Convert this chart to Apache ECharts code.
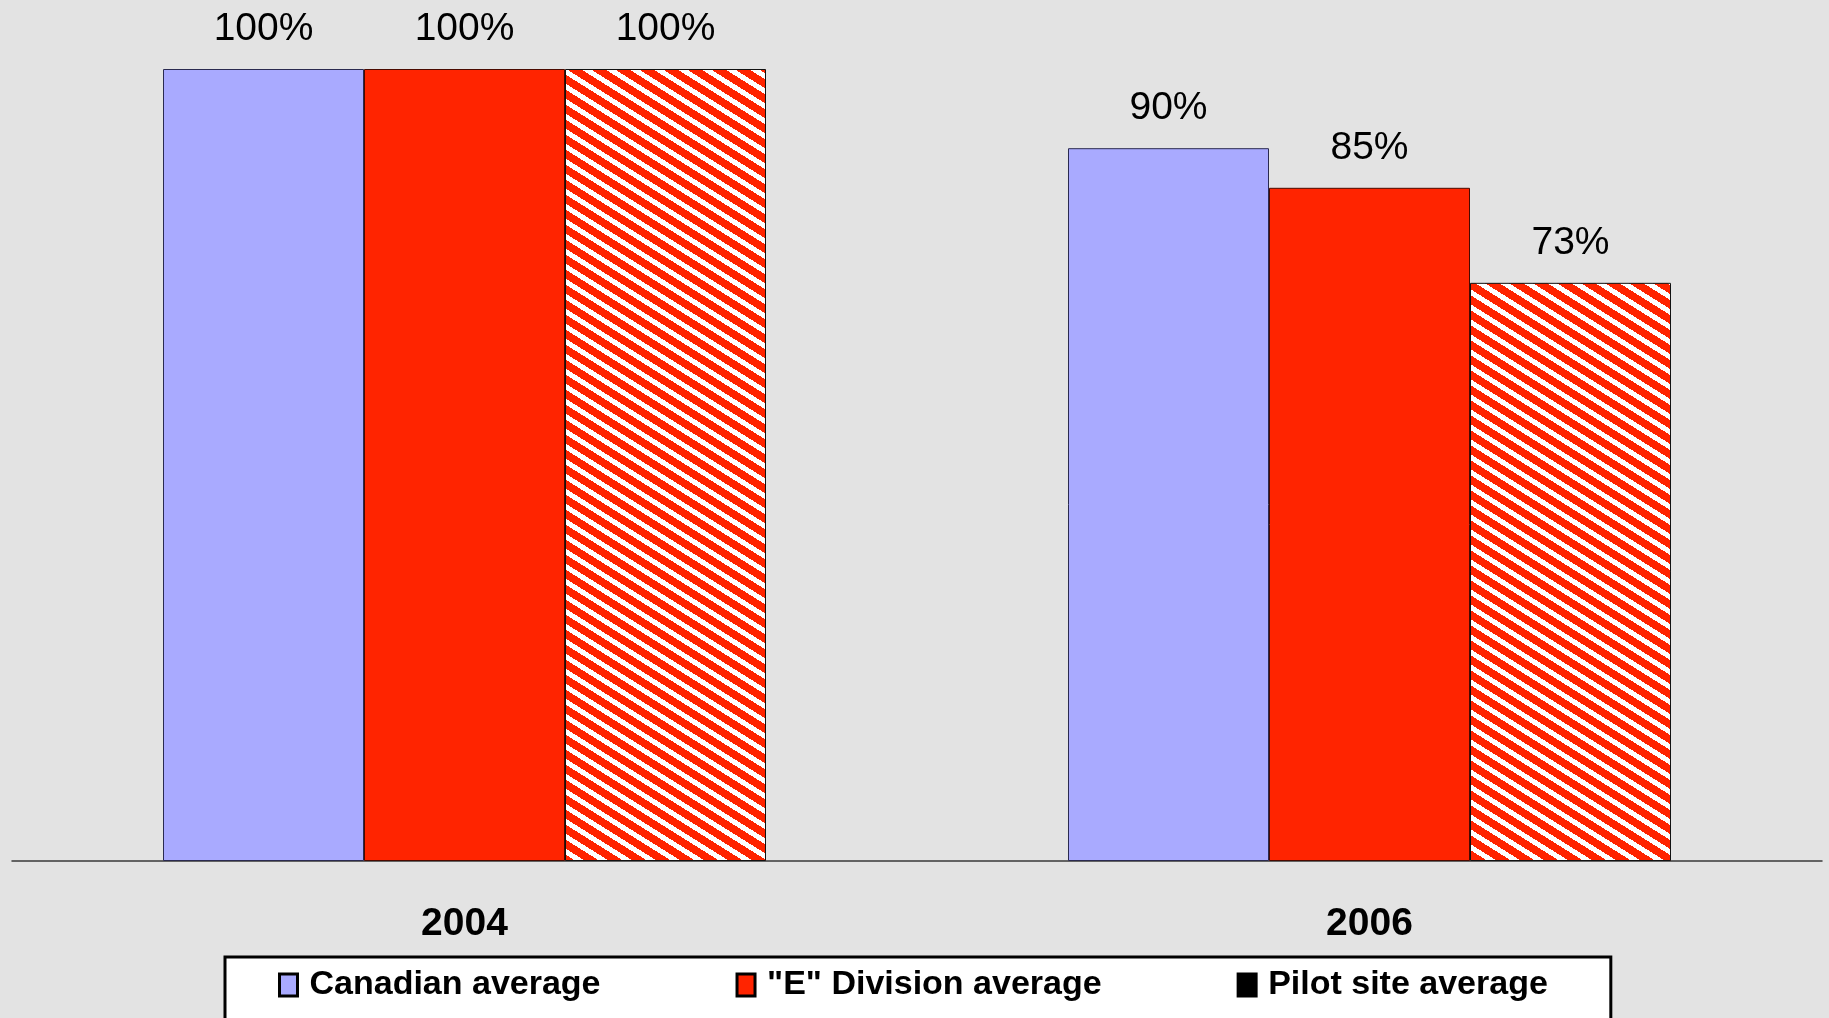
<!DOCTYPE html>
<html>
<head>
<meta charset="utf-8">
<script src="https://cdn.jsdelivr.net/npm/echarts@6/dist/echarts.min.js"></script>
<style>
html,body{margin:0;padding:0;background:#e3e3e3;}
#chart{width:1829px;height:1018px;}
</style>
</head>
<body>
<div id="chart"></div>
<script>
var categories = ['2004', '2006'];
var canadianAvg = [100, 90];
var eDivisionAvg = [100, 85];
var pilotSiteAvg = [100, 73];
var seriesNames = ['Canadian average', '"E" Division average', 'Pilot site average'];

// hatch pattern tile (diagonal white stripes on red), drawn pixel by pixel (no anti-aliasing)
function makeHatch() {
  var W = 24, H = 15, t = 6;
  var c = document.createElement('canvas');
  c.width = W; c.height = H;
  var ctx = c.getContext('2d');
  var img = ctx.createImageData(W, H);
  for (var y = 0; y < H; y++) {
    for (var x = 0; x < W; x++) {
      var v = (y - x * H / W) % H;
      if (v < 0) v += H;
      var white = v < t;
      var i = (y * W + x) * 4;
      img.data[i] = 255;
      img.data[i + 1] = white ? 255 : 36;
      img.data[i + 2] = white ? 255 : 0;
      img.data[i + 3] = 255;
    }
  }
  ctx.putImageData(img, 0, 0);
  return c;
}
var hatch = makeHatch();

var chart = echarts.init(document.getElementById('chart'), null, {renderer: 'canvas'});
var labelStyle = {
  show: true,
  position: 'top',
  distance: 20,
  formatter: '{c}%',
  fontFamily: 'Liberation Sans, Arial, sans-serif',
  fontSize: 39,
  color: '#000'
};
var option = {
  backgroundColor: '#e3e3e3',
  animation: false,
  grid: {left: 12, right: 7, top: 69, bottom: 157, containLabel: false},
  legend: {
    left: 225,
    top: 957,
    padding: [11, 63, 60, 53],
    itemGap: 135,
    itemWidth: 18,
    itemHeight: 22,
    icon: 'rect',
    backgroundColor: '#ffffff',
    borderColor: '#000000',
    borderWidth: 3,
    textStyle: {
      fontFamily: 'Liberation Sans, Arial, sans-serif',
      fontWeight: 'bold',
      fontSize: 34,
      color: '#000',
      padding: [0, 0, 0, 7]
    },
    data: [
      {name: seriesNames[0], icon: 'rect', itemStyle: {color: '#a9aaff', borderColor: '#000', borderWidth: 3}},
      {name: seriesNames[1], icon: 'rect', itemStyle: {color: '#ff2400', borderColor: '#000', borderWidth: 3}},
      {name: seriesNames[2], icon: 'rect', itemStyle: {color: '#000', borderColor: '#000', borderWidth: 3}}
    ]
  },
  xAxis: {
    type: 'category',
    data: categories,
    axisLine: {show: true, lineStyle: {color: '#3a3a3a', width: 1.5}},
    axisTick: {show: false},
    axisLabel: {
      margin: 44,
      fontFamily: 'Liberation Sans, Arial, sans-serif',
      fontWeight: 'bold',
      fontSize: 39,
      color: '#000'
    },
    splitLine: {show: false}
  },
  yAxis: {
    type: 'value',
    min: 0,
    max: 100,
    show: false,
    splitLine: {show: false}
  },
  series: [
    {
      name: seriesNames[0],
      type: 'bar',
      data: canadianAvg,
      barWidth: 201,
      barGap: '0%',
      itemStyle: {color: '#a9aaff', borderColor: '#2a2a50', borderWidth: 1},
      label: labelStyle
    },
    {
      name: seriesNames[1],
      type: 'bar',
      data: eDivisionAvg,
      barWidth: 201,
      barGap: '0%',
      itemStyle: {color: '#ff2400', borderColor: '#4a0a00', borderWidth: 1},
      label: labelStyle
    },
    {
      name: seriesNames[2],
      type: 'bar',
      data: pilotSiteAvg,
      barWidth: 201,
      barGap: '0%',
      itemStyle: {color: {image: hatch, repeat: 'repeat'}, borderColor: '#111', borderWidth: 1},
      label: labelStyle
    }
  ]
};
chart.setOption(option);
</script>
</body>
</html>
